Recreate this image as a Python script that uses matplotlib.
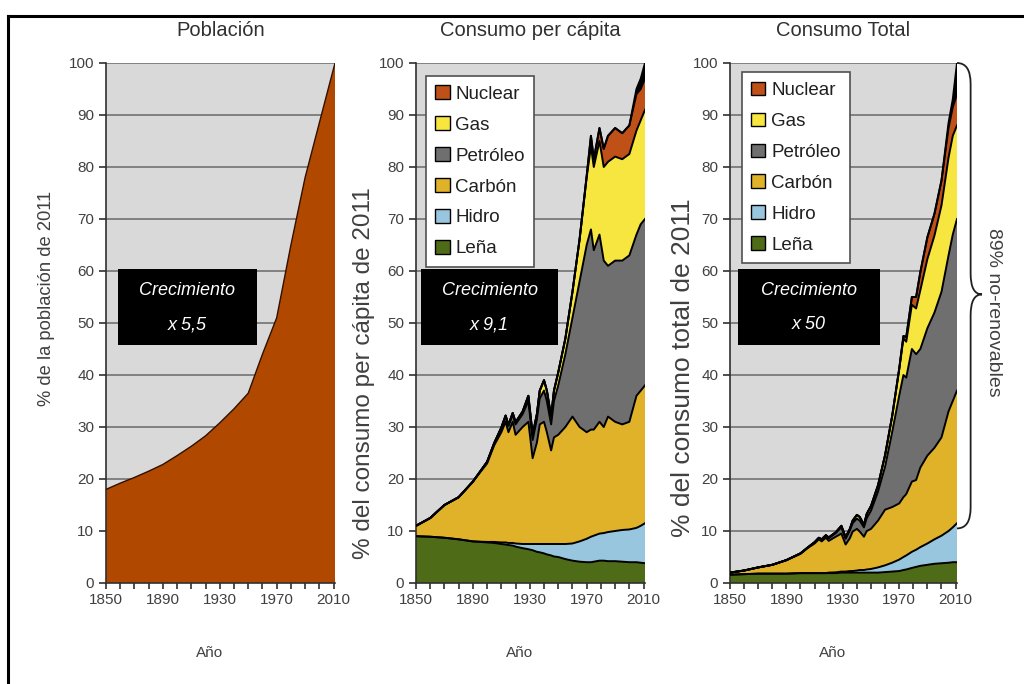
import numpy as np
import matplotlib
matplotlib.use("Agg")
import matplotlib.pyplot as plt
from matplotlib.patches import Rectangle, Patch, PathPatch
from matplotlib.path import Path
from matplotlib.lines import Line2D

plt.rcParams['font.family'] = ['Liberation Sans', 'DejaVu Sans']

# --- datos ---
anios_pob = [1850, 1860, 1870, 1880, 1890, 1900, 1910, 1920, 1930, 1940, 1950,
             1960, 1970, 1980, 1990, 2000, 2011]
poblacion = [18, 19.2, 20.3, 21.5, 22.8, 24.5, 26.3, 28.3, 30.8, 33.5, 36.5,
             44, 51, 65, 78, 88.5, 100]

anios = [1850, 1860, 1870, 1880, 1890, 1900, 1905, 1910, 1913, 1915, 1918, 1920,
         1925, 1929, 1932, 1935, 1937, 1940, 1942, 1945, 1947, 1950, 1955, 1960,
         1965, 1970, 1973, 1975, 1979, 1982, 1985, 1990, 1995, 2000, 2005, 2008, 2011]

# consumo per capita: borde superior acumulado de cada fuente
pc_lena = [9.0, 8.9, 8.7, 8.4, 8.0, 7.8, 7.7, 7.5, 7.4, 7.3, 7.2, 7.0, 6.7, 6.5, 6.3,
           6.0, 5.9, 5.7, 5.5, 5.3, 5.1, 5.0, 4.6, 4.3, 4.1, 4.0, 4.0, 4.1, 4.3, 4.3,
           4.2, 4.2, 4.1, 4.0, 4.0, 3.9, 3.8]
pc_hidro = [9.0, 8.9, 8.7, 8.4, 8.0, 7.9, 7.9, 7.8, 7.8, 7.7, 7.7, 7.6, 7.5, 7.5, 7.5,
            7.5, 7.5, 7.5, 7.5, 7.5, 7.5, 7.5, 7.5, 7.6, 8.0, 8.5, 8.9, 9.1, 9.5, 9.6,
            9.8, 10.0, 10.2, 10.3, 10.6, 11.0, 11.5]
pc_carbon = [11, 12.5, 15, 16.5, 19.5, 23, 26.5, 29, 31, 29, 31, 28.5, 30, 31, 24,
             27, 30.5, 31, 29, 25.5, 28, 28.5, 30, 32, 30, 29, 29.5, 29.5, 31, 30,
             32, 31, 30.5, 31, 36, 37, 38]
pc_petroleo = [11, 12.5, 15, 16.5, 19.5, 23.3, 26.9, 29.8, 32, 30.2, 32.4, 30.5, 32.5,
               35, 27.5, 31.5, 35.5, 37, 35, 30.5, 35, 38, 44, 51, 58, 65, 68, 64, 67,
               62, 61, 62, 62, 63, 67, 69, 70]
pc_gas = [11, 12.5, 15, 16.5, 19.5, 23.3, 26.9, 29.9, 32.2, 30.4, 32.7, 30.9, 33, 36,
          28.5, 32.5, 37, 39, 37, 32, 37, 40.5, 47, 56, 66, 78, 84, 80, 85, 80, 81, 82,
          81.5, 82.5, 87, 89, 91]
pc_nuclear = [11, 12.5, 15, 16.5, 19.5, 23.3, 26.9, 29.9, 32.2, 30.4, 32.7, 30.9, 33,
              36, 28.5, 32.5, 37, 39, 37, 32, 37, 40.5, 47, 56, 66.1, 78.3, 86, 81.5,
              87.5, 83.5, 86, 87.5, 86.5, 88, 94, 95, 97]
pc_otros = [11, 12.5, 15, 16.5, 19.5, 23.3, 26.9, 29.9, 32.2, 30.4, 32.7, 30.9, 33,
            36, 28.5, 32.5, 37, 39, 37, 32, 37, 40.5, 47, 56, 66.1, 78.3, 86, 81.5,
            87.5, 83.5, 86, 87.5, 86.5, 88, 95, 97, 100]

# consumo total
tot_lena = [1.6, 1.7, 1.8, 1.8, 1.8, 1.9, 1.9, 1.9, 1.9, 1.9, 1.9, 1.9, 1.9, 2.0, 2.0,
            2.0, 2.0, 2.0, 2.0, 2.0, 2.0, 2.0, 2.0, 2.1, 2.2, 2.3, 2.5, 2.6, 2.9, 3.1,
            3.3, 3.5, 3.7, 3.8, 3.9, 4.0, 4.0]
tot_hidro = [1.6, 1.7, 1.8, 1.8, 1.8, 1.9, 1.9, 1.9, 1.9, 1.9, 1.9, 2.0, 2.05, 2.2,
             2.2, 2.3, 2.3, 2.4, 2.5, 2.5, 2.6, 2.7, 3.0, 3.4, 3.9, 4.5, 5.0, 5.3, 6.0,
             6.4, 6.9, 7.6, 8.4, 9.1, 10.0, 10.7, 11.5]
tot_carbon = [2.0, 2.4, 3.0, 3.5, 4.4, 5.6, 6.7, 7.6, 8.4, 8.0, 8.7, 8.1, 8.9, 9.5, 7.4,
              8.6, 9.9, 10.4, 9.9, 8.9, 10.0, 10.4, 12.0, 14.1, 14.6, 15.3, 16.5, 17.1,
              19.5, 19.8, 22.2, 24.5, 26, 28, 33, 35, 37]
tot_petroleo = [2.0, 2.4, 3.0, 3.5, 4.4, 5.7, 6.8, 7.8, 8.6, 8.3, 9.1, 8.6, 9.6, 10.7,
                8.5, 10.1, 11.5, 12.4, 12.0, 10.7, 12.5, 13.9, 17.6, 22.4, 29, 36, 40,
                39.5, 45, 44, 45, 49, 52, 56, 63, 67, 70]
tot_gas = [2.0, 2.4, 3.0, 3.5, 4.4, 5.7, 6.8, 7.85, 8.7, 8.4, 9.2, 8.75, 9.75, 11.0,
           8.8, 10.4, 12.0, 13.1, 12.7, 11.2, 13.3, 14.8, 18.8, 24.6, 32, 41, 47, 46.4,
           53.5, 52.8, 56.3, 62.3, 66.8, 72.6, 81.8, 86, 88]
tot_nuclear = [2.0, 2.4, 3.0, 3.5, 4.4, 5.7, 6.8, 7.85, 8.7, 8.4, 9.2, 8.75, 9.75, 11.0,
               8.8, 10.4, 12.0, 13.1, 12.7, 11.2, 13.3, 14.8, 18.8, 24.6, 32.1, 41.2,
               47.5, 47.3, 55, 55, 59.8, 66.5, 71, 77.4, 87.5, 91.5, 94]
tot_otros = [2.0, 2.4, 3.0, 3.5, 4.4, 5.7, 6.8, 7.85, 8.7, 8.4, 9.2, 8.75, 9.75, 11.0,
             8.8, 10.4, 12.0, 13.1, 12.7, 11.2, 13.3, 14.8, 18.8, 24.6, 32.1, 41.2,
             47.5, 47.3, 55, 55, 59.8, 66.5, 71, 77.4, 88.5, 93, 100]

fuentes = ['Leña', 'Hidro', 'Carbón', 'Petróleo', 'Gas', 'Nuclear']
colores = ['#4E6B17', '#98C6DE', '#DFB22A', '#6F6F6F', '#F7E63F', '#BF5018']
crecimiento = ['x 5,5', 'x 9,1', 'x 50']

gris_txt = '#404040'

fig = plt.figure(figsize=(10.24, 6.84), dpi=100)
W, H = 1024, 684


def ejes(left, width):
    ax = fig.add_axes([left / W, (H - 583) / H, width / W, 520 / H])
    ax.set_facecolor('#D9D9D9')
    ax.set_xlim(1850, 2011)
    ax.set_ylim(0, 100)
    ax.set_yticks(range(0, 101, 10))
    ax.set_xticks([1850, 1890, 1930, 1970, 2010])
    ax.set_xticks(range(1850, 2011, 10), minor=True)
    ax.yaxis.grid(True, color='#7A7A7A', lw=1.3)
    ax.set_axisbelow(True)
    for s in ['top', 'right']:
        ax.spines[s].set_visible(False)
    for s in ['left', 'bottom']:
        ax.spines[s].set_color('#303030')
        ax.spines[s].set_linewidth(1.2)
    ax.tick_params(axis='both', which='both', direction='out', color='#303030',
                   labelcolor=gris_txt, labelsize=11)
    ax.tick_params(axis='x', which='both', length=4, width=1.2)
    ax.tick_params(axis='y', length=5, width=1.2)
    return ax


def caja(ax, x0, x1, texto):
    ax.add_patch(Rectangle((x0, 0.457), x1 - x0, 0.147, transform=ax.transAxes,
                           facecolor='black', edgecolor='none', zorder=6))
    xc = (x0 + x1) / 2
    for yy, s in [(0.563, 'Crecimiento'), (0.497, texto)]:
        ax.text(xc, yy, s, transform=ax.transAxes, ha='center', va='center',
                color='white', style='italic', fontsize=13, zorder=7)


def apilado(ax, x, tops, otros):
    base = np.zeros(len(x))
    for top, c in zip(tops, colores):
        ax.fill_between(x, base, top, facecolor=c, edgecolor='none', zorder=2)
        base = np.array(top)
    ax.fill_between(x, base, otros, facecolor='black', edgecolor='none', zorder=2)
    for top in tops + [otros]:
        ax.plot(x, top, color='black', lw=1.4, zorder=3)


def leyenda(ax, x0, y0):
    handles = [Patch(facecolor=c, edgecolor='black', lw=1.0) for c in colores[::-1]]
    leg = ax.legend(handles, fuentes[::-1], loc='upper left', bbox_to_anchor=(x0, y0),
                    borderaxespad=0, fontsize=13.5, frameon=True, fancybox=False,
                    handlelength=0.75, handleheight=0.75, handletextpad=0.3,
                    labelspacing=0.72, borderpad=0.5, labelcolor='#202020')
    leg.get_frame().set_edgecolor('#505050')
    leg.get_frame().set_linewidth(1.2)
    leg.get_frame().set_alpha(1)
    leg.set_zorder(8)


# panel 1
ax1 = ejes(106, 229)
ax1.fill_between(anios_pob, 0, poblacion, facecolor='#B04800', edgecolor='none', zorder=2)
ax1.plot(anios_pob, poblacion, color='#301000', lw=1.0, zorder=3)
caja(ax1, 0.052, 0.659, crecimiento[0])

# panel 2
ax2 = ejes(416, 229)
apilado(ax2, anios, [pc_lena, pc_hidro, pc_carbon, pc_petroleo, pc_gas, pc_nuclear], pc_otros)
caja(ax2, 0.022, 0.62, crecimiento[1])
leyenda(ax2, 0.044, 0.975)

# panel 3
ax3 = ejes(730, 227)
apilado(ax3, anios, [tot_lena, tot_hidro, tot_carbon, tot_petroleo, tot_gas, tot_nuclear], tot_otros)
caja(ax3, 0.035, 0.66, crecimiento[2])
leyenda(ax3, 0.053, 0.982)

# titulos y etiquetas
titulos = ['Población', 'Consumo per cápita', 'Consumo Total']
ylabels = ['% de la población de 2011', '% del consumo per cápita de 2011',
           '% del consumo total de 2011']
ylab_x = [-0.258, -0.227, -0.207]
ylab_y = [0.548, 0.404, 0.415]
ylab_fs = [13.2, 17.5, 19]
for ax, t, yl, xx, yy, fs in zip([ax1, ax2, ax3], titulos, ylabels, ylab_x, ylab_y, ylab_fs):
    ax.text(0.5, 1 + 33 / 520, t, transform=ax.transAxes, ha='center', va='center',
            fontsize=14.5, color='#303030')
    ax.text(xx, yy, yl, transform=ax.transAxes, rotation=90, ha='center', va='center',
            fontsize=fs, color=gris_txt)
    ax.text(0.452, -0.135, 'Año', transform=ax.transAxes, ha='center', va='center',
            fontsize=11, color=gris_txt)

# llave 89% no-renovables
tr = ax3.get_yaxis_transform()
x_a, x_s, x_t = 1.0, 1.06, 1.11
y_top, y_mid, y_bot = 100, 55.5, 10.5
verts = [(x_a, y_top), (x_s, y_top), (x_s, y_top - 4),
         (x_s, y_mid + 4), (x_s, y_mid), (x_t, y_mid),
         (x_s, y_mid), (x_s, y_mid - 4),
         (x_s, y_bot + 4), (x_s, y_bot), (x_a, y_bot)]
codes = [Path.MOVETO, Path.CURVE3, Path.CURVE3,
         Path.LINETO, Path.CURVE3, Path.CURVE3,
         Path.CURVE3, Path.CURVE3,
         Path.LINETO, Path.CURVE3, Path.CURVE3]
ax3.add_patch(PathPatch(Path(verts, codes), transform=tr, facecolor='none',
                        edgecolor='#202020', lw=1.3, clip_on=False))
ax3.text(1.16, 52, '89% no-renovables', transform=tr, rotation=-90, ha='center',
         va='center', fontsize=14, color='#404040')

# marco exterior
fig.add_artist(Line2D([8 / W, 1.0], [1 - 16 / H, 1 - 16 / H], color='black', lw=2.2))
fig.add_artist(Line2D([8 / W, 8 / W], [0, 1 - 16 / H], color='black', lw=2.2))

fig.savefig('out.png', dpi=100, facecolor='white')
